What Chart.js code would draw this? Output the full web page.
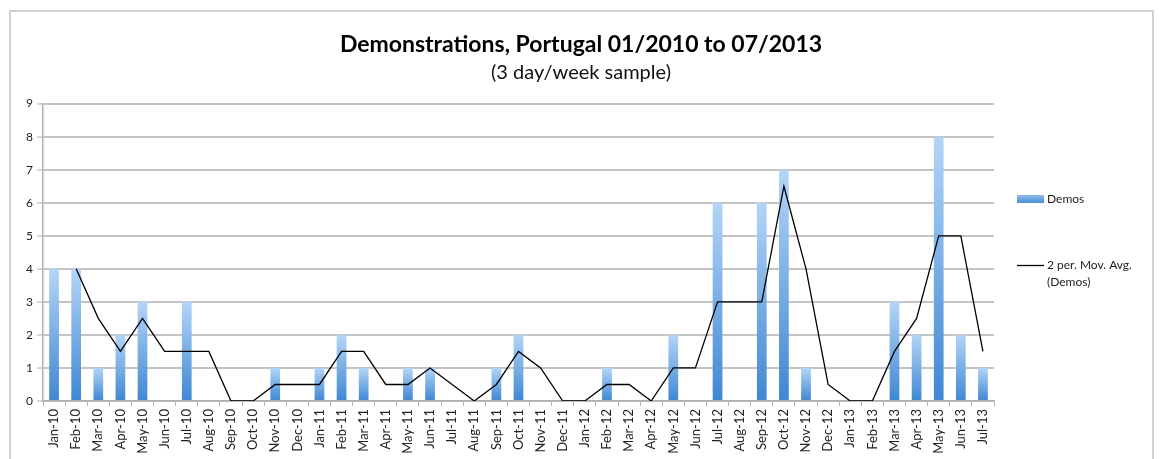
<!DOCTYPE html>
<html>
<head>
<meta charset="utf-8">
<script src="https://cdn.jsdelivr.net/npm/chart.js@4"></script>
<style>
    html, body { margin: 0; padding: 0; background: #fff; }
    #wrap { position: relative; width: 1162px; height: 459px; }
    #frame { position: absolute; left: 9px; top: 10px; width: 1145px; height: 460px; border: 2px solid #d0d0d0; border-bottom: none; box-sizing: border-box; }
    canvas { position: absolute; left: 0; top: 0; }
</style>
</head>
<body>
<div id="wrap">
    <div id="frame"></div>
    <canvas id="demoChart" width="1162" height="459"></canvas>
</div>
<script>
// Months Jan-10 .. Jul-13
var months = ['Jan-10', 'Feb-10', 'Mar-10', 'Apr-10', 'May-10', 'Jun-10', 'Jul-10', 'Aug-10', 'Sep-10', 'Oct-10', 'Nov-10', 'Dec-10',
    'Jan-11', 'Feb-11', 'Mar-11', 'Apr-11', 'May-11', 'Jun-11', 'Jul-11', 'Aug-11', 'Sep-11', 'Oct-11', 'Nov-11', 'Dec-11',
    'Jan-12', 'Feb-12', 'Mar-12', 'Apr-12', 'May-12', 'Jun-12', 'Jul-12', 'Aug-12', 'Sep-12', 'Oct-12', 'Nov-12', 'Dec-12',
    'Jan-13', 'Feb-13', 'Mar-13', 'Apr-13', 'May-13', 'Jun-13', 'Jul-13'];

var demos = [4, 4, 1, 2, 3, 0, 3, 0, 0, 0, 1, 0,
    1, 2, 1, 0, 1, 1, 0, 0, 1, 2, 0, 0,
    0, 1, 0, 0, 2, 0, 6, 0, 6, 7, 1, 0,
    0, 0, 3, 2, 8, 2, 1];

// moving average line (no point in Jan-10)
var movAvg = [null, 4, 2.5, 1.5, 2.5, 1.5, 1.5, 1.5, 0, 0, 0.5, 0.5,
    0.5, 1.5, 1.5, 0.5, 0.5, 1, 0.5, 0, 0.5, 1.5, 1, 0,
    0, 0.5, 0.5, 0, 1, 1, 3, 3, 3, 6.5, 4, 0.5,
    0, 0, 1.5, 2.5, 5, 5, 1.5];

var yTicks = [0, 1, 2, 3, 4, 5, 6, 7, 8, 9];

var fontFamily = 'Lato, "Open Sans", sans-serif';

function barGradient(context) {
    var chart = context.chart;
    var y = chart.scales.y;
    if (!y || context.type !== 'data') return '#5b9bd5';
    var v = context.raw || 0;
    var top = y.getPixelForValue(v);
    var bottom = y.getPixelForValue(0);
    if (!isFinite(top) || !isFinite(bottom) || top === bottom) return '#5b9bd5';
    var g = chart.ctx.createLinearGradient(0, top, 0, bottom);
    g.addColorStop(0, '#b3d5f8');
    g.addColorStop(1, '#3f87d2');
    return g;
}

// legend drawn on the right, next to the plot
var sideLegend = {
    id: 'sideLegend',
    afterDraw: function (chart) {
        var ctx = chart.ctx;
        var x = chart.chartArea.right + 23;
        ctx.save();
        var g = ctx.createLinearGradient(0, 195, 0, 203);
        g.addColorStop(0, '#8dbcee');
        g.addColorStop(1, '#4a8fd6');
        ctx.fillStyle = g;
        ctx.fillRect(x, 195, 27, 8);
        ctx.strokeStyle = '#000';
        ctx.lineWidth = 1.3;
        ctx.beginPath();
        ctx.moveTo(x, 265.5);
        ctx.lineTo(x + 27, 265.5);
        ctx.stroke();
        ctx.fillStyle = '#222';
        ctx.font = '12px ' + fontFamily;
        ctx.textBaseline = 'middle';
        ctx.fillText('Demos', x + 30, 199);
        ctx.fillText('2 per. Mov. Avg.', x + 30, 265);
        ctx.fillText('(Demos)', x + 30, 282);
        ctx.restore();
    }
};

var ctx = document.getElementById('demoChart').getContext('2d');
var demoChart = new Chart(ctx, {
    type: 'bar',
    data: {
        labels: months,
        datasets: [{
            type: 'line',
            label: '2 per. Mov. Avg. (Demos)',
            data: movAvg,
            borderColor: '#000',
            borderWidth: 1.3,
            pointRadius: 0,
            tension: 0,
            fill: false,
            order: 0
        }, {
            label: 'Demos',
            data: demos,
            backgroundColor: barGradient,
            categoryPercentage: 0.8,
            barPercentage: 0.55,
            order: 1
        }]
    },
    options: {
        responsive: false,
        animation: false,
        layout: { padding: { left: 10, right: 10, top: 0, bottom: 0 } },
        plugins: {
            legend: { display: false },
            tooltip: { enabled: false },
            title: {
                display: true,
                text: 'Demonstrations, Portugal 01/2010 to 07/2013',
                color: '#000',
                font: { family: fontFamily, size: 23, weight: 'bold' },
                padding: { top: 31, bottom: 2 }
            },
            subtitle: {
                display: true,
                text: '(3 day/week sample)',
                color: '#111',
                font: { family: fontFamily, size: 20 },
                padding: { top: 0, bottom: 19 }
            }
        },
        scales: {
            x: {
                grid: { display: true, drawOnChartArea: false, drawTicks: true, tickLength: 5, color: '#b0b0b0', lineWidth: 1 },
                border: { color: '#b0b0b0', width: 1.5 },
                ticks: {
                    autoSkip: false,
                    maxRotation: 90,
                    minRotation: 90,
                    color: '#222',
                    font: { family: fontFamily, size: 13 },
                    padding: 3
                },
                afterFit: function (s) { s.height = 58; }
            },
            y: {
                min: 0,
                max: 9,
                grid: { color: '#c4c4c4', lineWidth: 2, tickLength: 6, tickColor: '#b0b0b0', tickWidth: 1 },
                border: { color: '#b0b0b0', width: 1.5 },
                afterBuildTicks: function (s) {
                    s.ticks = yTicks.map(function (v) { return { value: v }; });
                },
                ticks: {
                    color: '#222',
                    font: { family: fontFamily, size: 12 },
                    padding: 4
                },
                afterFit: function (s) { s.width = 33; }
            },
            // empty right axis: keeps room for the legend
            side: {
                position: 'right',
                display: true,
                grid: { display: false, drawTicks: false },
                border: { display: false },
                ticks: { display: false },
                afterFit: function (s) { s.width = 158; }
            }
        }
    },
    plugins: [sideLegend]
});
</script>
</body>
</html>
